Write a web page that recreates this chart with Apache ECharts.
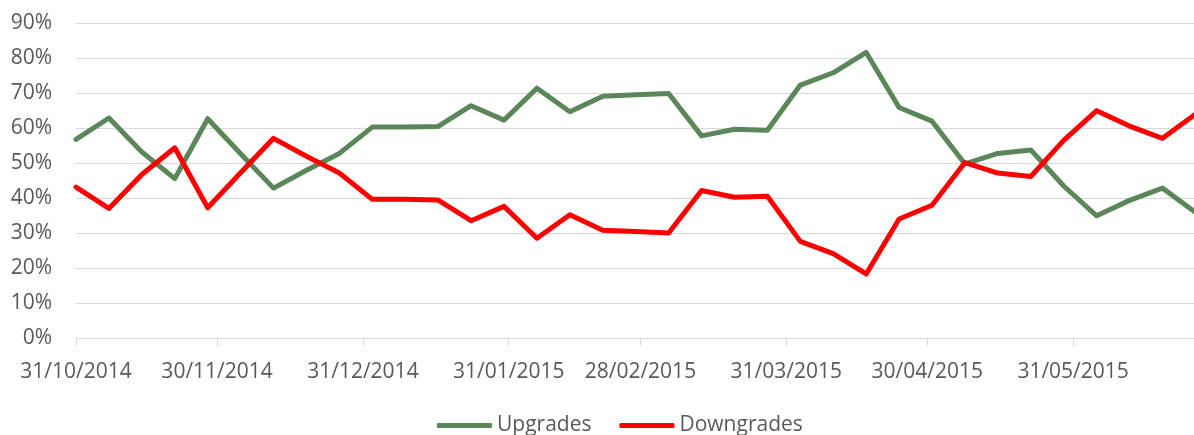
<!DOCTYPE html>
<html>
<head>
<meta charset="utf-8">
<script src="https://cdn.jsdelivr.net/npm/echarts@6/dist/echarts.min.js"></script>
<style>
  html, body { margin: 0; padding: 0; background: #fff; }
  #chart { width: 1194px; height: 435px; }
</style>
</head>
<body>
<div id="chart"></div>
<script>
// weekly observation dates
const dates = [
  "2014-10-31", "2014-11-07", "2014-11-14", "2014-11-21", "2014-11-28",
  "2014-12-05", "2014-12-12", "2014-12-19", "2014-12-26", "2015-01-02",
  "2015-01-09", "2015-01-16", "2015-01-23", "2015-01-30", "2015-02-06",
  "2015-02-13", "2015-02-20", "2015-02-27", "2015-03-06", "2015-03-13",
  "2015-03-20", "2015-03-27", "2015-04-03", "2015-04-10", "2015-04-17",
  "2015-04-24", "2015-05-01", "2015-05-08", "2015-05-15", "2015-05-22",
  "2015-05-29", "2015-06-05", "2015-06-12", "2015-06-19", "2015-06-26"
]

// share of revisions, in %
const upgrades = [
  56.8, 62.9, 53.2, 45.6, 62.7, 52.7, 42.9, 48.0, 52.8, 60.3,
  60.3, 60.5, 66.4, 62.3, 71.4, 64.7, 69.1, 69.5, 69.9, 57.8,
  59.7, 59.4, 72.3, 75.8, 81.6, 65.9, 62.0, 49.8, 52.8, 53.8,
  43.5, 35.0, 39.4, 42.9, 36.0
]
const downgrades = [
  43.2, 37.1, 46.8, 54.4, 37.3, 47.3, 57.1, 52.0, 47.2, 39.7,
  39.7, 39.5, 33.6, 37.7, 28.6, 35.3, 30.9, 30.5, 30.1, 42.2,
  40.3, 40.6, 27.7, 24.2, 18.4, 34.1, 38.0, 50.2, 47.2, 46.2,
  56.5, 65.0, 60.6, 57.1, 64.0
]

// x axis labels (month ends)
const tickDates = [
  "2014-10-31", "2014-11-30", "2014-12-31", "2015-01-31",
  "2015-02-28", "2015-03-31", "2015-04-30", "2015-05-31"
]
const axisStart = "2014-10-31"
const axisEnd = "2015-06-25"

const DAY = 24 * 3600 * 1000

function toTs(s) {
  const p = s.split("-").map(Number)
  return Date.UTC(p[0], p[1] - 1, p[2])
}

function fmtDate(v) {
  const d = new Date(v)
  const dd = String(d.getUTCDate()).padStart(2, "0")
  const mm = String(d.getUTCMonth() + 1).padStart(2, "0")
  return dd + "/" + mm + "/" + d.getUTCFullYear()
}

const textColor = "#595959"
const gridColor = "#D9D9D9"
const font = "'Open Sans', 'Noto Sans', sans-serif"

const chart = echarts.init(document.getElementById("chart"))

const tickValues = tickDates.map(toTs)

const option = {
  animation: false,
  textStyle: { fontFamily: font },
  grid: { left: 76, right: 0, top: 23, bottom: 96.5 },
  legend: {
    left: 437,
    top: 415,
    padding: 0,
    itemWidth: 55,
    itemHeight: 5,
    itemGap: 28,
    icon: "roundRect",
    textStyle: { color: textColor, fontSize: 21, fontFamily: font },
    data: ["Upgrades", "Downgrades"]
  },
  xAxis: {
    // plain value axis in ms so ticks can sit on month ends
    type: "value",
    min: toTs(axisStart),
    max: toTs(axisEnd) + 0.7 * DAY,
    axisLine: { show: true, onZero: false, lineStyle: { color: gridColor, width: 1.2 } },
    axisTick: { show: true, length: 8, lineStyle: { color: gridColor }, customValues: tickValues },
    axisLabel: {
      color: textColor,
      fontSize: 21,
      fontFamily: font,
      margin: 23,
      customValues: tickValues,
      formatter: (v) => fmtDate(v),
      hideOverlap: false
    },
    splitLine: { show: false }
  },
  yAxis: {
    type: "value",
    min: 0,
    max: 90,
    interval: 10,
    axisLine: { show: false },
    axisTick: { show: false },
    axisLabel: {
      color: textColor,
      fontSize: 21,
      fontFamily: font,
      margin: 24,
      formatter: (v) => v + "%"
    },
    splitLine: { show: true, lineStyle: { color: gridColor, width: 1.2 } }
  },
  series: [
    {
      name: "Upgrades",
      type: "line",
      showSymbol: false,
      symbol: "none",
      color: "#5B8659",
      lineStyle: { width: 5, color: "#5B8659", join: "round", cap: "round" },
      data: dates.map((d, i) => [toTs(d), upgrades[i]])
    },
    {
      name: "Downgrades",
      type: "line",
      showSymbol: false,
      symbol: "none",
      color: "#FF0000",
      lineStyle: { width: 5, color: "#FF0000", join: "round", cap: "round" },
      data: dates.map((d, i) => [toTs(d), downgrades[i]])
    }
  ]
}

chart.setOption(option)
</script>
</body>
</html>
